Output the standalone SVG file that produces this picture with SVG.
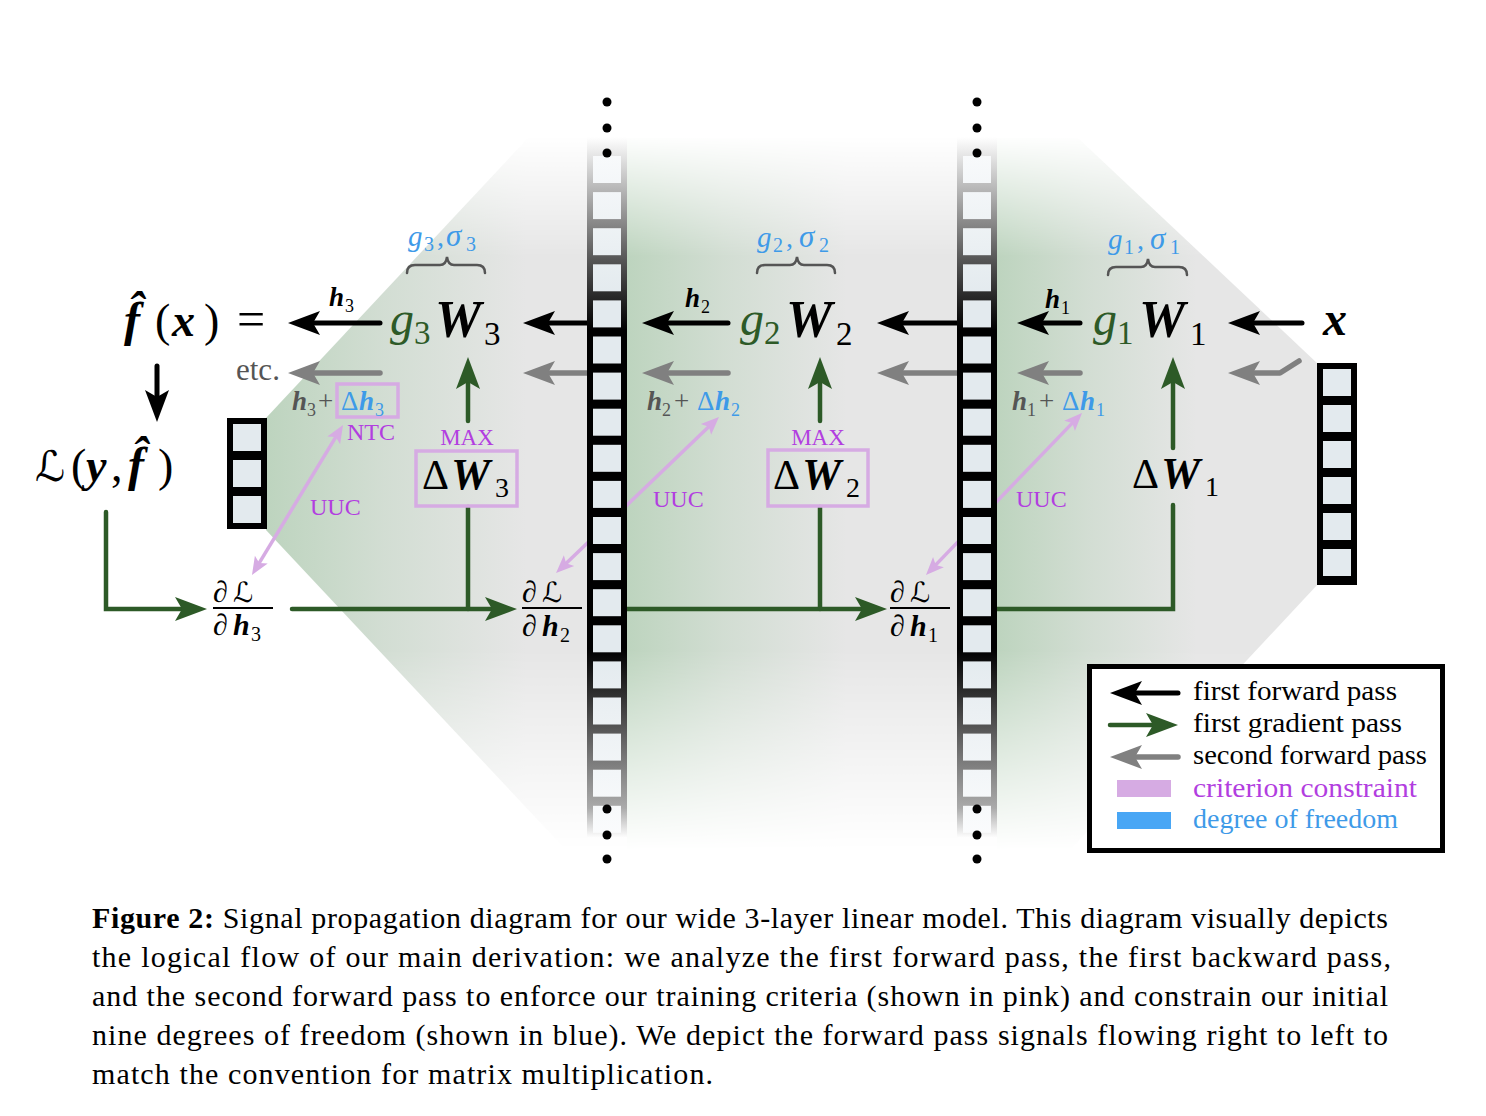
<svg xmlns="http://www.w3.org/2000/svg" width="1486" height="1116" viewBox="0 0 1486 1116">
<defs>
<style>
.s{font-family:"Liberation Serif","DejaVu Serif",serif}
.cal{font-family:"DejaVu Serif","DejaVu Sans",serif}
.i{font-style:italic}
.b{font-weight:bold}
.gn{fill:#2d5a27}
.bu{fill:#3e9ae8}
.pu{fill:#b23ee0}
.gy{fill:#555}
.k{stroke:#000;stroke-width:5;fill:none;stroke-linecap:round}
.ga{stroke:#808080;stroke-width:5.5;fill:none;stroke-linecap:round;stroke-linejoin:round}
.gl{stroke:#2d5a27;stroke-width:4.5;fill:none;stroke-linecap:round}
.pk{stroke:#d6abe3;stroke-width:3.5;fill:none}
.pkbox{fill:none;stroke:#d6abe3;stroke-width:3.5}
.brace{fill:none;stroke:#555;stroke-width:2.5;stroke-linecap:round}
.bar{stroke:#000;stroke-width:2}
.dot{fill:#000}
</style>
<marker id="mK" markerUnits="userSpaceOnUse" markerWidth="40" markerHeight="30" viewBox="-12 -15 40 30" refX="0" refY="0" orient="auto"><path d="M22,0 L-10,-12 L-3,0 L-10,12 Z" fill="#000"/></marker>
<marker id="mG" markerUnits="userSpaceOnUse" markerWidth="40" markerHeight="30" viewBox="-12 -15 40 30" refX="0" refY="0" orient="auto"><path d="M22,0 L-10,-12 L-3,0 L-10,12 Z" fill="#808080"/></marker>
<marker id="mN" markerUnits="userSpaceOnUse" markerWidth="40" markerHeight="30" viewBox="-12 -15 40 30" refX="0" refY="0" orient="auto"><path d="M22,0 L-10,-12 L-3,0 L-10,12 Z" fill="#2d5a27"/></marker>
<marker id="mP" markerUnits="userSpaceOnUse" markerWidth="30" markerHeight="20" viewBox="-10 -10 30 20" refX="0" refY="0" orient="auto-start-reverse"><path d="M12,0 L-6,-7.5 L-2,0 L-6,7.5 Z" fill="#d6abe3"/></marker>
<linearGradient id="vfadeGrad" gradientUnits="userSpaceOnUse" x1="0" y1="135" x2="0" y2="850">
<stop offset="0" stop-color="#000"/><stop offset="0.17" stop-color="#fff"/><stop offset="0.72" stop-color="#fff"/><stop offset="1" stop-color="#000"/>
</linearGradient>
<mask id="vfade" maskUnits="userSpaceOnUse" x="0" y="0" width="1486" height="1116"><rect x="0" y="0" width="1486" height="1116" fill="url(#vfadeGrad)"/></mask>
<clipPath id="bgClip"><polygon points="266,418 528,138 1078,138 1318,364 1318,584 1070,850 566,850 266,530"/></clipPath>
<linearGradient id="greenH" x1="0" y1="0" x2="1" y2="0">
<stop offset="0" stop-color="#a4c9a6" stop-opacity="0.62"/><stop offset="0.45" stop-color="#a4c9a6" stop-opacity="0.3"/><stop offset="1" stop-color="#a4c9a6" stop-opacity="0"/>
</linearGradient>
<linearGradient id="frameG" gradientUnits="userSpaceOnUse" x1="0" y1="137" x2="0" y2="838">
<stop offset="0" stop-color="#fff"/><stop offset="0.07" stop-color="#bbb"/><stop offset="0.176" stop-color="#555"/><stop offset="0.275" stop-color="#000"/><stop offset="0.73" stop-color="#000"/><stop offset="0.80" stop-color="#333"/><stop offset="0.886" stop-color="#777"/><stop offset="0.957" stop-color="#aaa"/><stop offset="1" stop-color="#fff"/>
</linearGradient>
<linearGradient id="sqG" gradientUnits="userSpaceOnUse" x1="0" y1="137" x2="0" y2="838">
<stop offset="0" stop-color="#fbfcfd"/><stop offset="0.23" stop-color="#e3eaee"/><stop offset="0.73" stop-color="#e3eaee"/><stop offset="1" stop-color="#fbfcfd"/>
</linearGradient>
<g id="col">
<rect x="0" y="137" width="40" height="701" fill="url(#frameG)"/>
<g fill="url(#sqG)">
<rect x="6" y="156" width="28" height="27"/><rect x="6" y="192.1" width="28" height="27"/><rect x="6" y="228.2" width="28" height="27"/><rect x="6" y="264.3" width="28" height="27"/><rect x="6" y="300.4" width="28" height="27"/><rect x="6" y="336.5" width="28" height="27"/><rect x="6" y="372.6" width="28" height="27"/><rect x="6" y="408.7" width="28" height="27"/><rect x="6" y="444.8" width="28" height="27"/><rect x="6" y="480.9" width="28" height="27"/><rect x="6" y="517" width="28" height="27"/><rect x="6" y="553.1" width="28" height="27"/><rect x="6" y="589.2" width="28" height="27"/><rect x="6" y="625.3" width="28" height="27"/><rect x="6" y="661.4" width="28" height="27"/><rect x="6" y="697.5" width="28" height="27"/><rect x="6" y="733.6" width="28" height="27"/><rect x="6" y="769.7" width="28" height="27"/><rect x="6" y="805.8" width="28" height="27"/>
</g>
<circle class="dot" cx="20" cy="102" r="4.5"/><circle class="dot" cx="20" cy="128" r="4.5"/><circle class="dot" cx="20" cy="153" r="4.5"/>
<circle class="dot" cx="20" cy="809" r="4.5"/><circle class="dot" cx="20" cy="835" r="4.5"/><circle class="dot" cx="20" cy="859" r="4.5"/>
</g>
</defs>

<rect x="0" y="0" width="1486" height="1116" fill="#fff"/>

<g id="background" clip-path="url(#bgClip)" mask="url(#vfade)">
<rect x="260" y="130" width="1070" height="730" fill="#e6e6e6"/>
<rect x="266" y="130" width="260" height="730" fill="url(#greenH)"/>
<rect x="627" y="130" width="220" height="730" fill="url(#greenH)"/>
<rect x="997" y="130" width="200" height="730" fill="url(#greenH)"/>
</g>

<g id="connectors">
<path class="k" d="M380,323 L310,323" marker-end="url(#mK)"/>
<path class="k" d="M600,323 L545,323" marker-end="url(#mK)"/>
<path class="k" d="M728,323 L664,323" marker-end="url(#mK)"/>
<path class="k" d="M970,323 L899,323" marker-end="url(#mK)"/>
<path class="k" d="M1080,323 L1039,323" marker-end="url(#mK)"/>
<path class="k" d="M1302,323 L1250,323" marker-end="url(#mK)"/>
<path class="k" d="M157,366 L157,400" marker-end="url(#mK)"/>
<path class="ga" d="M380,373 L310,373" marker-end="url(#mG)"/>
<path class="ga" d="M600,373 L545,373" marker-end="url(#mG)"/>
<path class="ga" d="M728,373 L664,373" marker-end="url(#mG)"/>
<path class="ga" d="M970,373 L899,373" marker-end="url(#mG)"/>
<path class="ga" d="M1080,373 L1039,373" marker-end="url(#mG)"/>
<path class="ga" d="M1299,361 L1280,373 L1250,373" marker-end="url(#mG)"/>
<path class="gl" d="M106,512 L106,609 L185,609" stroke-linejoin="miter" marker-end="url(#mN)"/>
<path class="gl" d="M292,609 L495,609" marker-end="url(#mN)"/>
<path class="gl" d="M468,609 L468,507"/>
<path class="gl" d="M468,421 L468,379" marker-end="url(#mN)"/>
<path class="gl" d="M615,609 L865,609" marker-end="url(#mN)"/>
<path class="gl" d="M820,609 L820,507"/>
<path class="gl" d="M820,421 L820,379" marker-end="url(#mN)"/>
<path class="gl" d="M985,609 L1173,609 L1173,505" stroke-linejoin="miter" stroke-linecap="butt"/>
<path class="gl" d="M1173,448 L1173,379" marker-end="url(#mN)"/>
<path class="pk" d="M258.2,564.7 L336.8,435.3" marker-start="url(#mP)" marker-end="url(#mP)"/>
<path class="pk" d="M564.7,564.7 L710.3,425.3" marker-start="url(#mP)" marker-end="url(#mP)"/>
<path class="pk" d="M934.3,566.4 L1073.7,421.6" marker-start="url(#mP)" marker-end="url(#mP)"/>
</g>

<g id="vectors">
<use href="#col" x="587"/>
<use href="#col" x="957"/>
<g id="vec-left">
<rect x="227" y="418" width="40" height="111" fill="#000"/>
<rect x="233" y="424" width="28" height="27" fill="#e3eaee"/><rect x="233" y="460" width="28" height="27" fill="#e3eaee"/><rect x="233" y="496" width="28" height="27" fill="#e3eaee"/>
</g>
<g id="vec-right">
<rect x="1317" y="363" width="40" height="222" fill="#000"/>
<rect x="1323" y="369" width="28" height="27" fill="#e3eaee"/><rect x="1323" y="405" width="28" height="27" fill="#e3eaee"/><rect x="1323" y="441" width="28" height="27" fill="#e3eaee"/><rect x="1323" y="477" width="28" height="27" fill="#e3eaee"/><rect x="1323" y="513" width="28" height="27" fill="#e3eaee"/><rect x="1323" y="549" width="28" height="27" fill="#e3eaee"/>
</g>
</g>

<g id="node-fx">
<text class="s i b" x="124" y="336" font-size="48">f̂</text>
<text class="s" x="155" y="336" font-size="46">(</text>
<text class="s i b" x="172" y="336" font-size="46">x</text>
<text class="s" x="204" y="336" font-size="46">)</text>
<text class="s" x="237" y="336" font-size="50">=</text>
</g>
<g id="label-h3">
<text class="s i b" x="329" y="306" font-size="27">h</text><text class="s" x="345" y="312" font-size="18">3</text>
</g>
<g id="label-etc"><text class="s gy" x="236" y="380" font-size="31">etc.</text></g>

<g id="node-L">
<text class="cal" x="35" y="481" font-size="42">ℒ</text>
<text class="s" x="71" y="481" font-size="46">(</text>
<text class="s i b" x="86" y="481" font-size="46">y</text>
<text class="s" x="111" y="481" font-size="46">,</text>
<text class="s i b" x="128" y="481" font-size="48">f̂</text>
<text class="s" x="158" y="481" font-size="46">)</text>
</g>

<g id="node-W3">
<text class="s i gn" x="390" y="335" font-size="48">g</text><text class="s gn" x="414" y="344" font-size="33">3</text>
<text class="s i b" x="435" y="337" font-size="52">W</text><text class="s" x="484" y="345" font-size="33">3</text>
<text class="s i bu" x="408" y="246" font-size="29">g</text><text class="s bu" x="424" y="251" font-size="20">3</text><text class="s bu" x="437" y="246" font-size="28">,</text><text class="s i bu" x="446" y="246" font-size="31">σ</text><text class="s bu" x="466" y="251" font-size="20">3</text>
<path class="brace" d="M407,273 Q407,265 415,265 L440,265 Q446,265 447,257 Q448,265 454,265 L477,265 Q485,265 485,273"/>
</g>
<g id="node-W2">
<text class="s i gn" x="740" y="335" font-size="48">g</text><text class="s gn" x="764" y="344" font-size="33">2</text>
<text class="s i b" x="786" y="337" font-size="52">W</text><text class="s" x="836" y="345" font-size="33">2</text>
<text class="s i bu" x="757" y="247" font-size="29">g</text><text class="s bu" x="773" y="252" font-size="20">2</text><text class="s bu" x="786" y="247" font-size="28">,</text><text class="s i bu" x="799" y="247" font-size="31">σ</text><text class="s bu" x="819" y="252" font-size="20">2</text>
<path class="brace" d="M757,273 Q757,265 765,265 L790,265 Q796,265 797,257 Q798,265 804,265 L827,265 Q835,265 835,273"/>
</g>
<g id="node-W1">
<text class="s i gn" x="1093" y="335" font-size="48">g</text><text class="s gn" x="1117" y="344" font-size="33">1</text>
<text class="s i b" x="1139" y="337" font-size="52">W</text><text class="s" x="1190" y="345" font-size="33">1</text>
<text class="s i bu" x="1108" y="249" font-size="29">g</text><text class="s bu" x="1124" y="254" font-size="20">1</text><text class="s bu" x="1137" y="249" font-size="28">,</text><text class="s i bu" x="1150" y="249" font-size="31">σ</text><text class="s bu" x="1170" y="254" font-size="20">1</text>
<path class="brace" d="M1108,275 Q1108,267 1116,267 L1141,267 Q1147,267 1148,259 Q1149,267 1155,267 L1179,267 Q1187,267 1187,275"/>
</g>
<g id="node-x"><text class="s i b" x="1323" y="335" font-size="48">x</text></g>

<g id="label-h2"><text class="s i b" x="685" y="307" font-size="27">h</text><text class="s" x="701" y="313" font-size="18">2</text></g>
<g id="label-h1"><text class="s i b" x="1045" y="308" font-size="27">h</text><text class="s" x="1061" y="314" font-size="18">1</text></g>

<g id="node-h3d">
<rect class="pkbox" x="337" y="384" width="61" height="33"/>
<text class="s i b gy" x="292" y="410" font-size="27">h</text><text class="s gy" x="307" y="416" font-size="18">3</text><text class="s gy" x="318" y="410" font-size="27">+</text>
<text class="s bu" x="341" y="410" font-size="27">Δ</text><text class="s i b bu" x="359" y="410" font-size="27">h</text><text class="s bu" x="375" y="416" font-size="18">3</text>
<text class="s pu" x="347" y="440" font-size="24">NTC</text>
</g>
<g id="node-h2d">
<text class="s i b gy" x="647" y="410" font-size="27">h</text><text class="s gy" x="662" y="416" font-size="18">2</text><text class="s gy" x="674" y="410" font-size="27">+</text>
<text class="s bu" x="697" y="410" font-size="27">Δ</text><text class="s i b bu" x="715" y="410" font-size="27">h</text><text class="s bu" x="731" y="416" font-size="18">2</text>
</g>
<g id="node-h1d">
<text class="s i b gy" x="1012" y="410" font-size="27">h</text><text class="s gy" x="1027" y="416" font-size="18">1</text><text class="s gy" x="1039" y="410" font-size="27">+</text>
<text class="s bu" x="1062" y="410" font-size="27">Δ</text><text class="s i b bu" x="1080" y="410" font-size="27">h</text><text class="s bu" x="1096" y="416" font-size="18">1</text>
</g>

<g id="node-dW3">
<text class="s pu" x="467" y="445" font-size="23" text-anchor="middle">MAX</text>
<rect class="pkbox" x="416" y="451" width="101" height="55"/>
<text class="s" x="422" y="489" font-size="42">Δ</text><text class="s i b" x="451" y="489" font-size="44">W</text><text class="s" x="495" y="497" font-size="28">3</text>
</g>
<g id="node-dW2">
<text class="s pu" x="818" y="445" font-size="23" text-anchor="middle">MAX</text>
<rect class="pkbox" x="768" y="450" width="100" height="56"/>
<text class="s" x="773" y="489" font-size="42">Δ</text><text class="s i b" x="802" y="489" font-size="44">W</text><text class="s" x="846" y="497" font-size="28">2</text>
</g>
<g id="node-dW1">
<text class="s" x="1132" y="488" font-size="42">Δ</text><text class="s i b" x="1161" y="488" font-size="44">W</text><text class="s" x="1205" y="496" font-size="28">1</text>
</g>

<g id="labels-uuc">
<text class="s pu" x="310" y="515" font-size="24">UUC</text>
<text class="s pu" x="653" y="507" font-size="24">UUC</text>
<text class="s pu" x="1016" y="507" font-size="24">UUC</text>
</g>

<g id="node-dh3">
<text class="s" x="213" y="602" font-size="30">∂</text><text class="cal" x="233" y="602" font-size="28">ℒ</text>
<line class="bar" x1="213" y1="608" x2="273" y2="608"/>
<text class="s" x="213" y="635" font-size="30">∂</text><text class="s i b" x="233" y="635" font-size="30">h</text><text class="s" x="251" y="641" font-size="20">3</text>
</g>
<g id="node-dh2">
<text class="s" x="522" y="602" font-size="30">∂</text><text class="cal" x="542" y="602" font-size="28">ℒ</text>
<line class="bar" x1="522" y1="608" x2="582" y2="608"/>
<text class="s" x="522" y="636" font-size="30">∂</text><text class="s i b" x="542" y="636" font-size="30">h</text><text class="s" x="560" y="642" font-size="20">2</text>
</g>
<g id="node-dh1">
<text class="s" x="890" y="602" font-size="30">∂</text><text class="cal" x="910" y="602" font-size="28">ℒ</text>
<line class="bar" x1="890" y1="608" x2="950" y2="608"/>
<text class="s" x="890" y="636" font-size="30">∂</text><text class="s i b" x="910" y="636" font-size="30">h</text><text class="s" x="928" y="642" font-size="20">1</text>
</g>

<g id="legend">
<rect x="1089.5" y="666.5" width="353" height="184" fill="#fff" stroke="#000" stroke-width="5"/>
<path class="k" d="M1178,693 L1132,693" marker-end="url(#mK)"/>
<path class="gl" d="M1110,725 L1156,725" stroke-width="5" marker-end="url(#mN)"/>
<path class="ga" d="M1178,757 L1132,757" marker-end="url(#mG)"/>
<rect x="1117" y="780" width="54" height="17" fill="#d6abe3"/>
<rect x="1117" y="812" width="54" height="17" fill="#48a6f5"/>
<text class="s" x="1193" y="700" font-size="27" textLength="204" lengthAdjust="spacingAndGlyphs">first forward pass</text>
<text class="s" x="1193" y="732" font-size="27" textLength="209" lengthAdjust="spacingAndGlyphs">first gradient pass</text>
<text class="s" x="1193" y="764" font-size="27" textLength="234" lengthAdjust="spacingAndGlyphs">second forward pass</text>
<text class="s pu" x="1193" y="797" font-size="27" textLength="224" lengthAdjust="spacingAndGlyphs">criterion constraint</text>
<text class="s bu" x="1193" y="828" font-size="27" textLength="205" lengthAdjust="spacingAndGlyphs">degree of freedom</text>
</g>

<g id="caption" class="s" font-size="30" fill="#000">
<text x="92" y="928" textLength="1296"><tspan font-weight="bold">Figure 2:</tspan> Signal propagation diagram for our wide 3-layer linear model. This diagram visually depicts</text>
<text x="92" y="967" textLength="1299">the logical flow of our main derivation: we analyze the first forward pass, the first backward pass,</text>
<text x="92" y="1006" textLength="1296">and the second forward pass to enforce our training criteria (shown in pink) and constrain our initial</text>
<text x="92" y="1045" textLength="1296">nine degrees of freedom (shown in blue). We depict the forward pass signals flowing right to left to</text>
<text x="92" y="1084" textLength="621">match the convention for matrix multiplication.</text>
</g>
</svg>
